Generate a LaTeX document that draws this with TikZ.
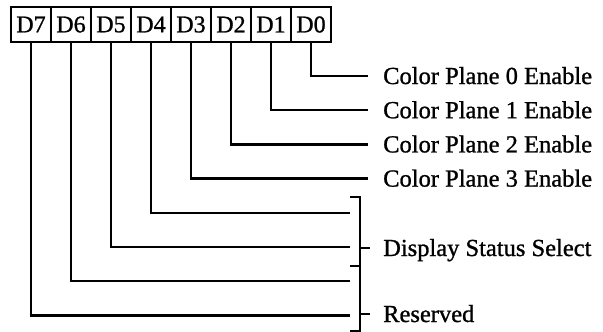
\documentclass[tikz,border=0pt]{standalone}
\usepackage{fontspec}
\setmainfont{Liberation Serif}[BoldFont=Liberation Serif,BoldFeatures={FakeBold=1}]
\begin{document}
\begin{tikzpicture}[x=1pt,y=-1pt,line width=2.4pt,
    bitbox/.style={draw,minimum width=40pt,minimum height=35pt,inner sep=0pt,
      font=\fontsize{24}{27}\selectfont\bfseries},
    bitlabel/.style={anchor=base west,inner sep=0pt,
      font=\fontsize{24.5}{27}\selectfont\bfseries}]
  \useasboundingbox (0,0) rectangle (603,332);

  % register bits D7 ... D0
  \foreach \b [count=\i from 0] in {7,6,5,4,3,2,1,0}
    \node[bitbox] (d\b) at (31+40*\i,24.5) {D\b};

  % colour plane enables
  \foreach \b in {0,1,2,3}{
    \coordinate (e\b) at (368,76+34.2*\b);
    \draw (d\b.south) |- (e\b);
    \node[bitlabel] (l\b) at (382,84+34.2*\b) {Color Plane \b\ Enable};
  }

  % upper bits into the brackets
  \foreach \b in {4,5,6,7}{
    \coordinate (e\b) at (350,76+34.2*\b);
    \draw (d\b.south) |- (e\b);
  }

  % brackets
  \coordinate (bt) at (360,197);
  \coordinate (bm) at (360,266);
  \coordinate (bb) at (360,331);
  \draw (350,197) -- (bt) -- (bb) -- (350,331);
  \draw (bm) -- ++(-10,0);
  \draw (360,248) -- ++(10,0);
  \draw (360,314) -- ++(10,0);
  \node[bitlabel] (dss) at (382,256) {Display Status Select};
  \node[bitlabel] (rsv) at (382,322) {Reserved};
\end{tikzpicture}
\end{document}
